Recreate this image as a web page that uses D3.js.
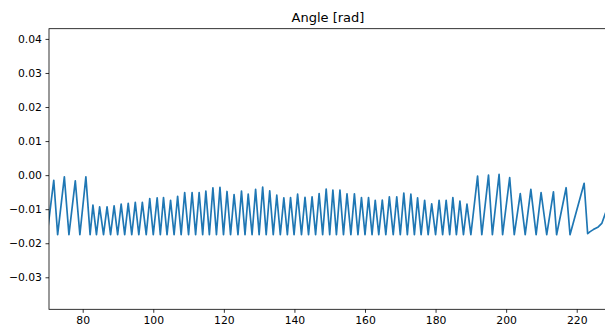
<!DOCTYPE html>
<html>
<head>
<meta charset="utf-8">
<script src="https://cdn.jsdelivr.net/npm/d3@7"></script>
<style>
  html, body { margin: 0; padding: 0; background: #fff; overflow: hidden; }
  svg { display: block; }
</style>
</head>
<body>
<div id="chart"></div>
<script>
// Angle [rad] against time.
// Opening part: slow, large swings.
const startTime = [69.9, 71.8, 72.9, 74.8, 76.1, 77.9, 79.2, 80.9, 82.1];
const startAngle = [-0.0175, -0.0015, -0.0175, -0.0005, -0.0175, -0.0017, -0.0175, -0.0005, -0.0175];

// Middle part: fast, small swings (peak, trough, peak, ...).
const midTime = [
  82.9, 83.9, 84.8, 85.9, 86.9, 87.9, 88.9, 89.9, 90.9, 91.9,
  92.9, 93.9, 94.9, 95.9, 96.9, 98.0, 99.0, 100.0, 101.1, 102.0,
  102.9, 103.9, 104.9, 105.9, 106.9, 107.9, 108.9, 110.0, 111.0, 112.0,
  113.0, 114.0, 114.9, 115.9, 116.9, 117.9, 118.9, 119.9, 120.9, 121.9,
  122.9, 124.0, 125.0, 126.0, 126.9, 128.0, 129.0, 130.0, 131.0, 132.0,
  133.0, 134.0, 135.0, 136.0, 137.0, 138.0, 138.9, 139.9, 140.9, 142.0,
  143.0, 144.0, 145.0, 146.0, 147.0, 148.0, 149.0, 150.0, 150.9, 151.9,
  152.9, 153.9, 154.9, 156.0, 157.0, 158.0, 159.0, 160.0, 161.0, 162.0,
  162.9, 163.9, 164.9, 165.9, 166.9, 168.0, 169.0, 170.0, 171.0, 172.0,
  173.0, 174.0, 174.9, 175.9, 176.9, 177.9, 178.9, 180.0, 181.0, 182.0,
  183.0, 184.0, 184.9, 185.9, 186.9, 187.9, 188.9
];
const midAngle = [
  -0.0088, -0.0175, -0.0093, -0.0175, -0.0093, -0.0175, -0.0090, -0.0175, -0.0085, -0.0175,
  -0.0083, -0.0175, -0.0080, -0.0175, -0.0080, -0.0175, -0.0069, -0.0175, -0.0067, -0.0175,
  -0.0066, -0.0175, -0.0074, -0.0175, -0.0062, -0.0175, -0.0051, -0.0175, -0.0051, -0.0175,
  -0.0051, -0.0175, -0.0047, -0.0175, -0.0037, -0.0175, -0.0036, -0.0175, -0.0048, -0.0175,
  -0.0057, -0.0175, -0.0047, -0.0175, -0.0056, -0.0175, -0.0042, -0.0175, -0.0035, -0.0175,
  -0.0046, -0.0175, -0.0059, -0.0175, -0.0067, -0.0175, -0.0066, -0.0175, -0.0056, -0.0175,
  -0.0065, -0.0175, -0.0064, -0.0175, -0.0054, -0.0175, -0.0041, -0.0175, -0.0044, -0.0175,
  -0.0044, -0.0175, -0.0055, -0.0175, -0.0055, -0.0175, -0.0066, -0.0175, -0.0066, -0.0175,
  -0.0074, -0.0175, -0.0073, -0.0175, -0.0064, -0.0175, -0.0064, -0.0175, -0.0053, -0.0175,
  -0.0056, -0.0175, -0.0067, -0.0175, -0.0074, -0.0175, -0.0084, -0.0175, -0.0074, -0.0175,
  -0.0074, -0.0175, -0.0066, -0.0175, -0.0076, -0.0175, -0.0085
];

// Closing part: large swings again, then a slow climb.
const endTime = [
  190.0, 191.9, 193.1, 195.0, 196.1, 198.0, 199.0, 201.0, 202.3, 204.0,
  205.4, 207.0, 208.5, 209.9, 211.5, 213.4, 214.3, 217.0, 218.1, 222.1,
  223.1, 223.8, 224.7, 226.1, 227.1, 228.0, 228.6
];
const endAngle = [
  -0.0175, -0.0003, -0.0175, 0.0000, -0.0175, 0.0002, -0.0175, -0.0007, -0.0175, -0.0054,
  -0.0175, -0.0042, -0.0175, -0.0051, -0.0175, -0.0049, -0.0175, -0.0037, -0.0175, -0.0024,
  -0.0172, -0.0166, -0.0160, -0.0152, -0.0142, -0.0116, -0.0098
];

const xTicks = [80, 100, 120, 140, 160, 180, 200, 220];
const yTicks = [-0.03, -0.02, -0.01, 0.00, 0.01, 0.02, 0.03, 0.04];

const width = 605;
const height = 329;
const plot = { left: 49, top: 28.7, right: 607, bottom: 309.3 };

const times = startTime.concat(midTime, endTime);
const angles = startAngle.concat(midAngle, endAngle);
const data = times.map((t, i) => ({ t, v: angles[i] }));

const x = d3.scaleLinear().domain([70.45, 228.58]).range([plot.left, plot.right]);
const y = d3.scaleLinear().domain([-0.0394, 0.0430]).range([plot.bottom, plot.top]);

const svg = d3.select("#chart")
  .append("svg")
  .attr("width", width)
  .attr("height", height)
  .style("font-family", "'DejaVu Sans', sans-serif");

svg.append("defs")
  .append("clipPath")
  .attr("id", "plot-clip")
  .append("rect")
  .attr("x", plot.left)
  .attr("y", plot.top)
  .attr("width", plot.right - plot.left)
  .attr("height", plot.bottom - plot.top);

const line = d3.line()
  .x((d) => x(d.t))
  .y((d) => y(d.v));

svg.append("path")
  .datum(data)
  .attr("clip-path", "url(#plot-clip)")
  .attr("fill", "none")
  .attr("stroke", "#1f77b4")
  .attr("stroke-width", 1.7)
  .attr("stroke-linejoin", "round")
  .attr("stroke-linecap", "square")
  .attr("d", line);

const fmtY = (d) => d3.format(".2f")(d).replace("-", "\u2212");

const xAxis = svg.append("g")
  .attr("transform", `translate(0,${plot.bottom})`)
  .call(d3.axisBottom(x).tickValues(xTicks).tickSize(3.5).tickPadding(3.5).tickSizeOuter(0));

const yAxis = svg.append("g")
  .attr("transform", `translate(${plot.left},0)`)
  .call(d3.axisLeft(y).tickValues(yTicks).tickFormat(fmtY).tickSize(3.5).tickPadding(3.5).tickSizeOuter(0));

for (const ax of [xAxis, yAxis]) {
  ax.select(".domain").remove();
  ax.selectAll(".tick line").attr("stroke", "#000").attr("stroke-width", 0.8);
  ax.selectAll(".tick text")
    .attr("fill", "#000")
    .attr("font-size", "10.8px")
    .attr("font-family", "'DejaVu Sans', sans-serif");
}

// spines
const spine = svg.append("g")
  .attr("fill", "none")
  .attr("stroke", "#000")
  .attr("stroke-width", 0.8);
spine.append("rect")
  .attr("x", plot.left)
  .attr("y", plot.top)
  .attr("width", plot.right - plot.left)
  .attr("height", plot.bottom - plot.top);

svg.append("text")
  .attr("x", (plot.left + plot.right) / 2)
  .attr("y", plot.top - 6.5)
  .attr("text-anchor", "middle")
  .attr("font-size", "13px")
  .attr("fill", "#000")
  .text("Angle [rad]");
</script>
</body>
</html>
